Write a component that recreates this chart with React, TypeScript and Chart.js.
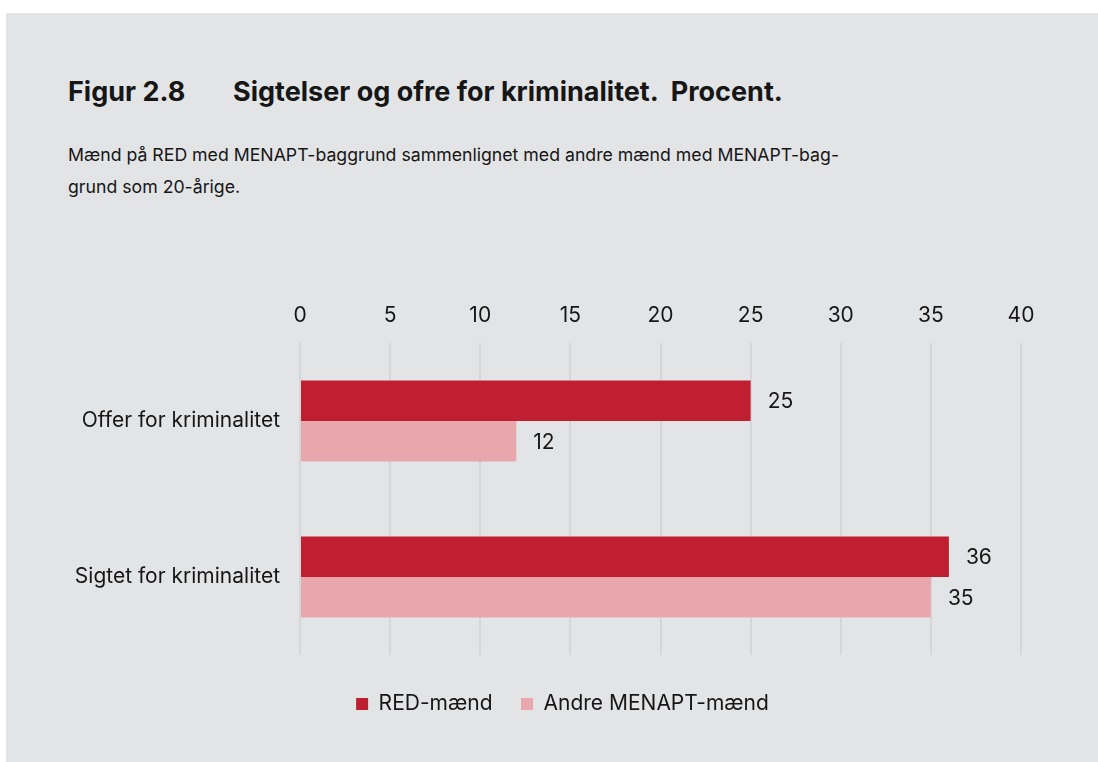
import React, { useEffect, useRef } from "react";
import { Chart, registerables } from "chart.js";

Chart.register(...registerables);

const categories = ["Offer for kriminalitet", "Sigtet for kriminalitet"];
const redValues = [25, 36];
const otherValues = [12, 35];
const seriesNames = ["RED-mænd", "Andre MENAPT-mænd"];
const tickValues = [0, 5, 10, 15, 20, 25, 30, 35, 40];

const FONT = "Inter, 'Noto Sans', sans-serif";
const TEXT = "#161616";
const BG = "#e3e4e6";
const FS = 21;

const valueLabels = {
  id: "valueLabels",
  afterDatasetsDraw(chart: any) {
    const ctx = chart.ctx;
    ctx.save();
    ctx.font = `${FS}px ${FONT}`;
    ctx.fillStyle = TEXT;
    ctx.textAlign = "left";
    ctx.textBaseline = "middle";
    chart.data.datasets.forEach((ds: any, di: number) => {
      const meta = chart.getDatasetMeta(di);
      meta.data.forEach((el: any, i: number) => {
        ctx.fillText(String(ds.data[i]), el.x + 17, el.y + 1);
      });
    });
    ctx.restore();
  },
};

// legend is centred under the whole figure (not the full canvas) in the original
const legendShift = {
  id: "legendShift",
  afterLayout(chart: any) {
    const lg = chart.legend;
    if (lg) {
      lg.left += 49;
      lg.right += 49;
    }
  },
};

export default function App() {
  const ref = useRef<HTMLCanvasElement | null>(null);
  useEffect(() => {
    if (!ref.current) return;
    const chart = new Chart(ref.current, {
      type: "bar",
      data: {
        labels: categories,
        datasets: [
          {
            label: seriesNames[0],
            data: redValues,
            backgroundColor: "#c01f32",
            xAxisID: "x",
            categoryPercentage: 0.52,
            barPercentage: 1,
          },
          {
            label: seriesNames[1],
            data: otherValues,
            backgroundColor: "#e8a7ad",
            xAxisID: "x",
            categoryPercentage: 0.52,
            barPercentage: 1,
          },
        ],
      },
      options: {
        indexAxis: "y",
        animation: false,
        responsive: false,
        devicePixelRatio: 1,
        layout: { padding: { left: 0, right: 77, top: 0, bottom: 35.5 } },
        scales: {
          x: {
            type: "linear",
            position: "top",
            min: 0,
            max: 40,
            afterBuildTicks: (s: any) => {
              s.ticks = tickValues.map((v) => ({ value: v }));
            },
            afterFit: (s: any) => {
              s.height = 53;
            },
            ticks: {
              padding: 14.5,
              color: TEXT,
              font: { family: FONT, size: FS },
            },
            grid: { color: "#d5d6d8", lineWidth: 2, drawTicks: false },
            border: { display: false },
          },
          x2: {
            type: "linear",
            axis: "x",
            position: "bottom",
            display: true,
            afterFit: (s: any) => {
              s.height = 10;
            },
            ticks: { display: false },
            grid: { display: false, drawTicks: false },
            border: { display: false },
          },
          y: {
            type: "category",
            position: "left",
            afterFit: (s: any) => {
              s.width = 294;
            },
            ticks: {
              padding: 20,
              color: TEXT,
              font: { family: FONT, size: FS },
            },
            grid: { display: false, drawTicks: false },
            border: { display: false },
          },
        },
        plugins: {
          legend: {
            position: "bottom",
            labels: {
              boxWidth: 12,
              boxHeight: 12,
              padding: 28.5,
              color: TEXT,
              font: { family: FONT, size: FS },
            },
          },
          tooltip: { enabled: false },
          title: { display: false },
        },
      } as any,
      plugins: [valueLabels, legendShift],
    });
    return () => chart.destroy();
  }, []);

  return (
    <div
      style={{
        position: "absolute",
        left: 6,
        top: 13,
        width: 1092,
        height: 749,
        background: BG,
        fontFamily: FONT,
        color: TEXT,
      }}
    >
      <div
        style={{
          position: "absolute",
          left: 62,
          top: 64,
          fontSize: 27,
          fontWeight: 700,
          whiteSpace: "pre",
          lineHeight: "30px",
        }}
      >
        Figur 2.8
      </div>
      <div
        style={{
          position: "absolute",
          left: 227,
          top: 64,
          fontSize: 27,
          fontWeight: 700,
          whiteSpace: "pre",
          lineHeight: "30px",
        }}
      >
        {"Sigtelser og ofre for kriminalitet.  Procent."}
      </div>
      <div
        style={{
          position: "absolute",
          left: 62,
          top: 126,
          fontSize: 17.7,
          lineHeight: "32px",
          whiteSpace: "pre",
        }}
      >
        {"Mænd på RED med MENAPT-baggrund sammenlignet med andre mænd med MENAPT-bag-\ngrund som 20-årige."}
      </div>
      <canvas
        ref={ref}
        width={1092}
        height={470}
        style={{ position: "absolute", left: 0, top: 277, width: 1092, height: 470 }}
      />
    </div>
  );
}
